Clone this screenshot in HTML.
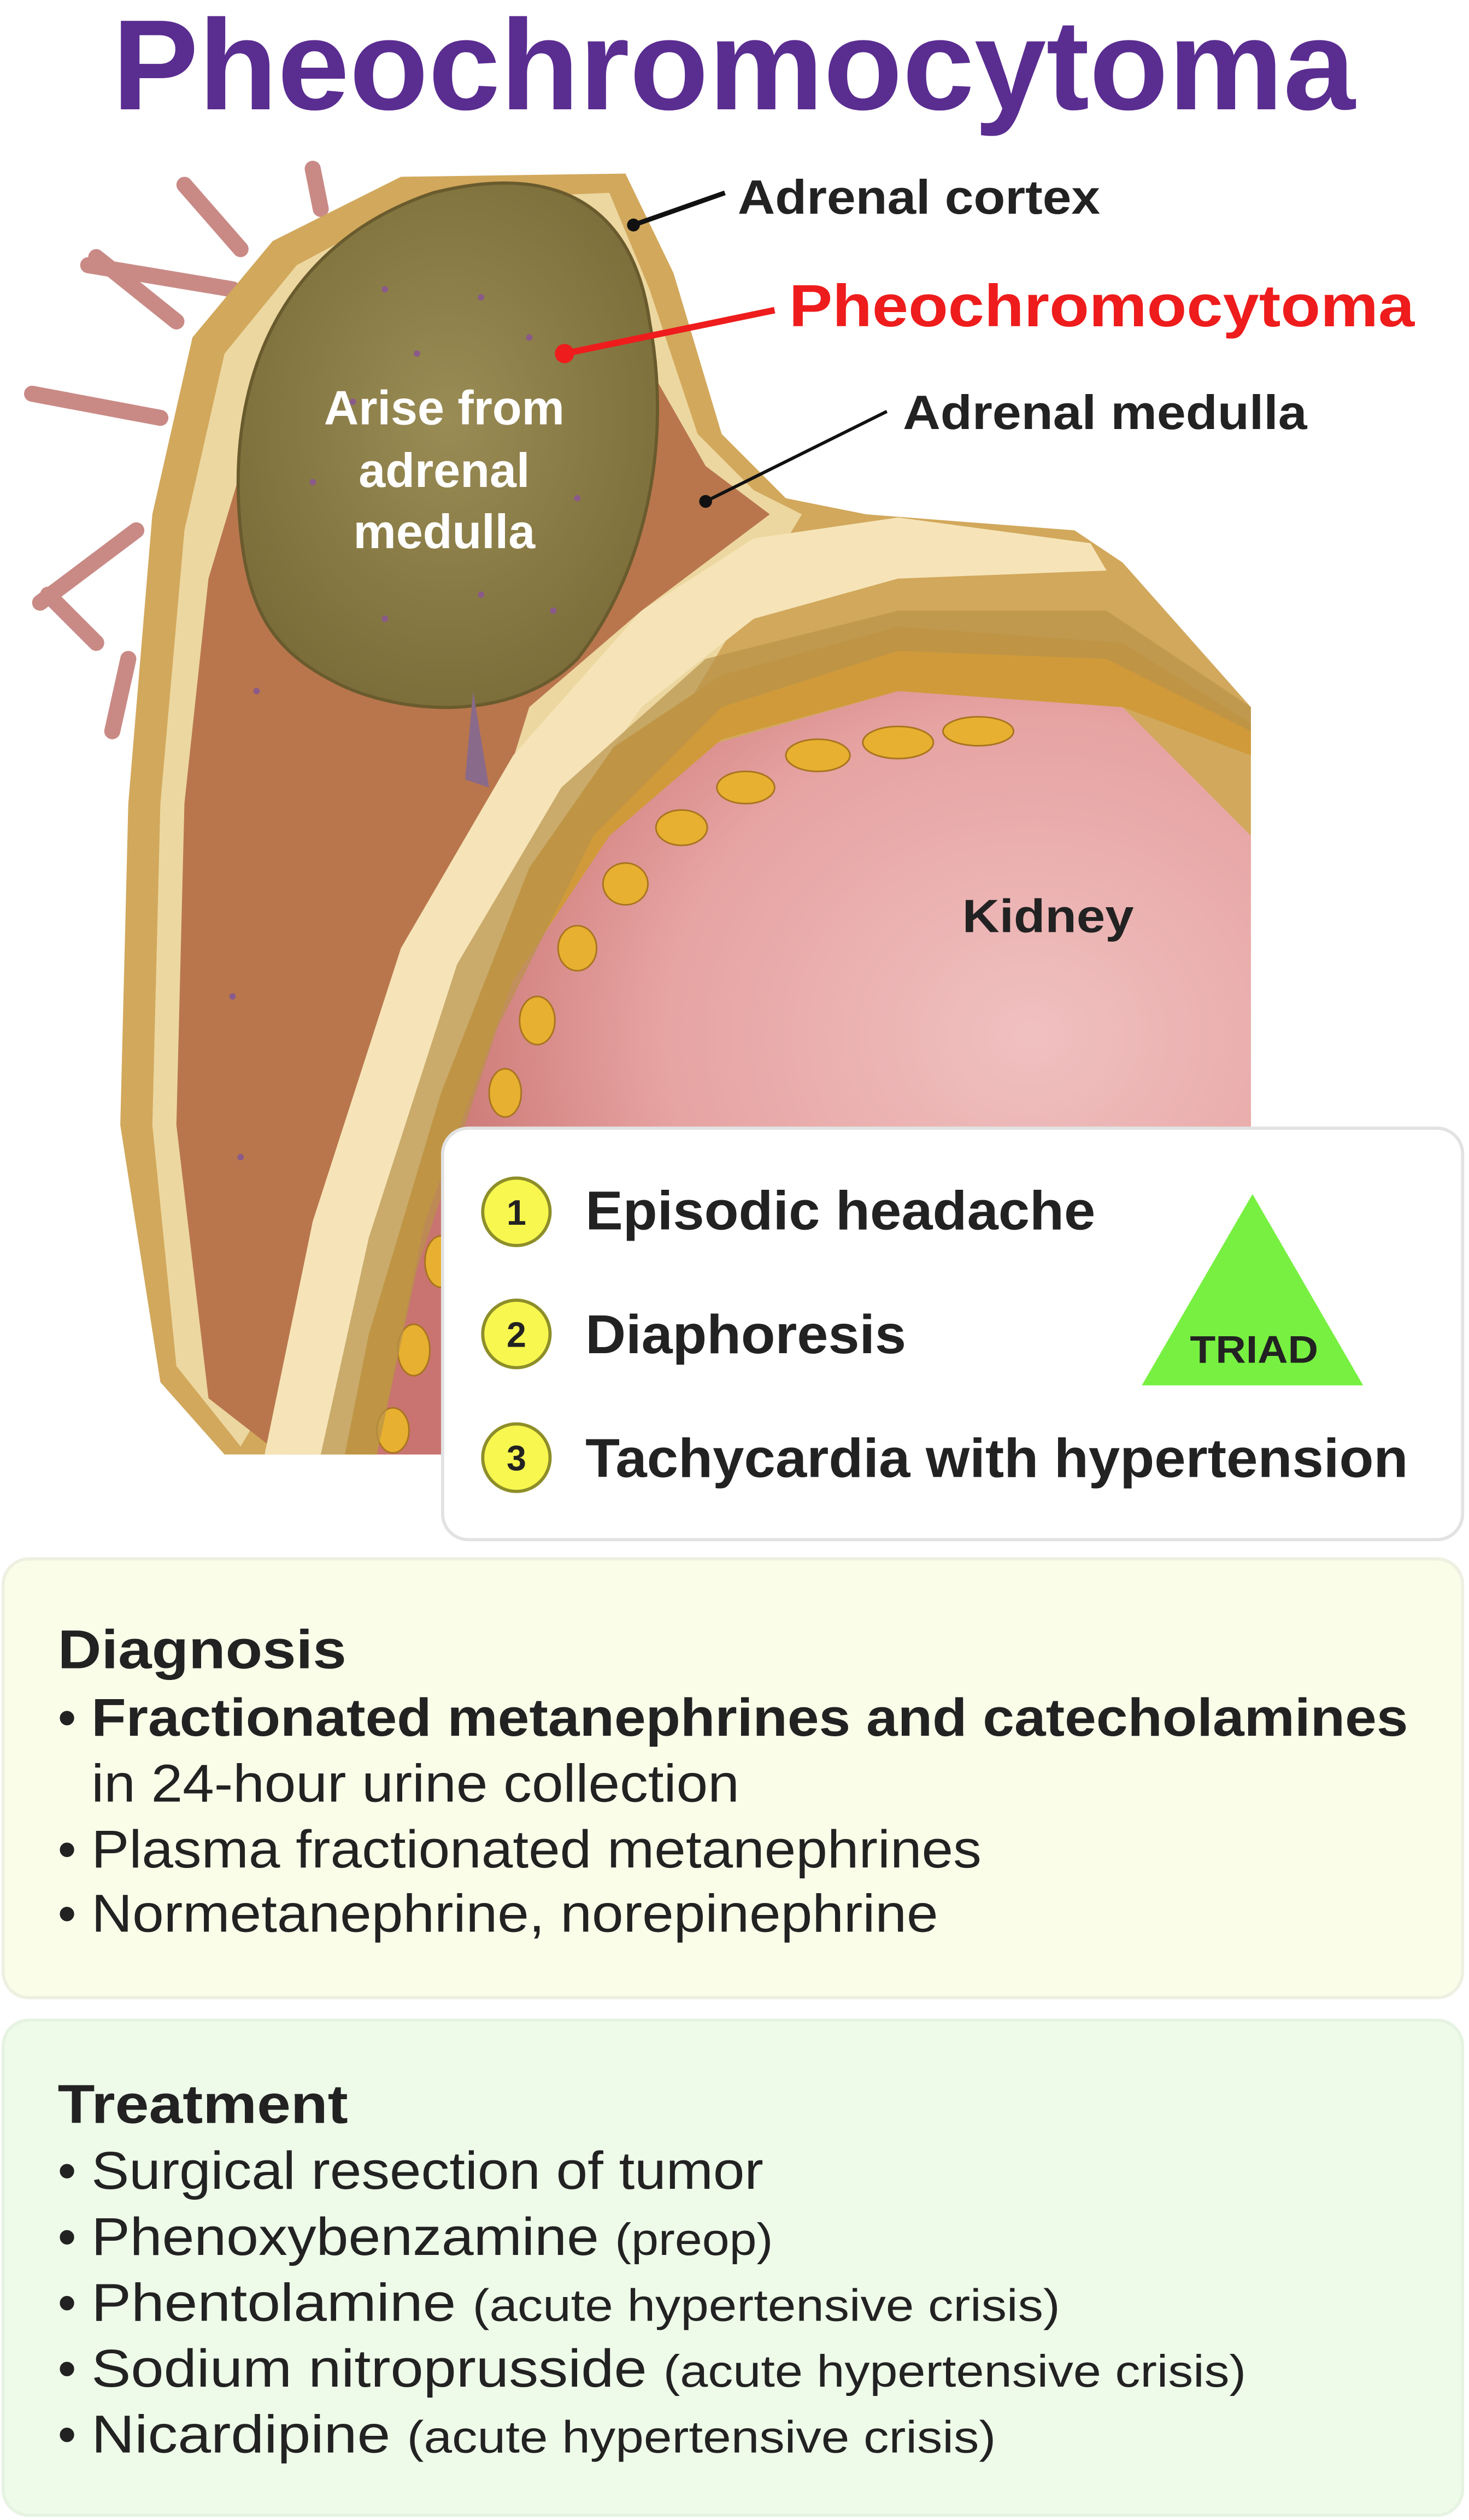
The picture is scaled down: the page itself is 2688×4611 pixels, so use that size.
<!DOCTYPE html>
<html><head><meta charset="utf-8"><style>html,body{margin:0;padding:0;background:#fff}svg{display:block}</style></head>
<body>
<svg width="2688" height="4611" viewBox="0 0 916 1568" preserveAspectRatio="none" xmlns="http://www.w3.org/2000/svg" font-family="Liberation Sans, Arial, sans-serif">
<defs>
<radialGradient id="kid" cx="0.75" cy="0.45" r="0.7"><stop offset="0" stop-color="#f0c0c0"/><stop offset="0.6" stop-color="#e6a3a2"/><stop offset="1" stop-color="#c97470"/></radialGradient>
<radialGradient id="tum" cx="0.5" cy="0.45" r="0.6"><stop offset="0" stop-color="#9a8c55"/><stop offset="1" stop-color="#7a6c38"/></radialGradient>
</defs>
<rect width="916" height="1568" fill="#fff"/>
<text x="70" y="68" font-size="80" font-weight="bold" fill="#5a2d91" textLength="775" lengthAdjust="spacingAndGlyphs">Pheochromocytoma</text>

<!-- vessels -->
<g stroke="#c98a86" stroke-width="10" stroke-linecap="round" fill="none">
<path d="M110 200 L60 160"/><path d="M100 260 L20 245"/><path d="M85 330 L25 375"/><path d="M80 410 L70 455"/><path d="M60 400 L30 370"/>
<path d="M150 155 L115 115"/><path d="M200 130 L195 105"/><path d="M145 180 L55 165"/>
</g>
<!-- outer adrenal -->
<path d="M140 905 L100 860 L75 700 L80 500 L95 320 L120 210 L170 150 L250 110 L390 108 L420 170 L450 270 L490 310 L540 320 L670 330 L700 350 L780 440 L780 905 Z" fill="#d2a85c"/>
<path d="M150 900 L110 850 L95 700 L100 500 L115 330 L140 220 L185 165 L260 125 L380 120 L405 180 L435 270 L470 305 L500 320 Z" fill="#ecd7a0"/>
<!-- medulla -->
<path d="M175 905 L130 870 L110 700 L115 500 L130 360 L160 260 L220 200 L330 190 L400 220 L440 290 L480 320 L400 380 L330 440 L280 600 L230 800 L210 905 Z" fill="#b9764c"/>
<!-- kidney -->
<path d="M230 905 L260 750 L330 560 L420 470 L560 430 L700 440 L780 520 L780 905 Z" fill="url(#kid)"/>
<!-- fat band -->
<path d="M195 905 L225 760 L290 580 L360 480 L450 420 L560 390 L700 400 L780 450 L780 470 L700 440 L560 430 L450 460 L380 520 L320 610 L265 760 L235 905 Z" fill="#d09a3a"/>
<g fill="#e8b030" stroke="#a87520" stroke-width="1">
<ellipse cx="560" cy="462" rx="22" ry="10"/><ellipse cx="510" cy="470" rx="20" ry="10"/><ellipse cx="465" cy="490" rx="18" ry="10"/><ellipse cx="425" cy="515" rx="16" ry="11"/><ellipse cx="390" cy="550" rx="14" ry="13"/><ellipse cx="360" cy="590" rx="12" ry="14"/><ellipse cx="335" cy="635" rx="11" ry="15"/><ellipse cx="315" cy="680" rx="10" ry="15"/><ellipse cx="295" cy="730" rx="10" ry="16"/><ellipse cx="275" cy="785" rx="10" ry="16"/><ellipse cx="258" cy="840" rx="10" ry="16"/><ellipse cx="245" cy="890" rx="10" ry="14"/><ellipse cx="610" cy="455" rx="22" ry="9"/>
</g>
<!-- cream band -->
<path d="M165 905 L195 760 L250 590 L320 470 L400 380 L470 335 L560 322 L680 338 L690 355 L560 360 L470 385 L400 440 L330 540 L275 680 L230 830 L215 905 Z" fill="#f6e4b8"/>
<path d="M200 905 L230 770 L285 600 L350 490 L440 410 L560 380 L690 380 L780 440 L780 455 L690 410 L560 405 L450 440 L370 520 L310 640 L260 790 L235 905 Z" fill="#b8934a" opacity="0.7"/>
<!-- tumor -->
<path d="M150 330 C140 230 180 150 270 120 C350 100 395 130 405 200 C420 280 400 360 360 410 C320 450 250 445 210 425 C170 405 155 380 150 330 Z" fill="url(#tum)" stroke="#6a5b2e" stroke-width="2"/>
<path d="M295 430 L305 490 L290 485 Z" fill="#8a6a8a"/>
<g fill="#8a5a8a"><circle cx="240" cy="180" r="2"/><circle cx="300" cy="185" r="2"/><circle cx="330" cy="210" r="2"/><circle cx="260" cy="220" r="2"/><circle cx="220" cy="250" r="2"/><circle cx="195" cy="300" r="2"/><circle cx="360" cy="310" r="2"/><circle cx="240" cy="385" r="2"/><circle cx="300" cy="370" r="2"/><circle cx="345" cy="380" r="2"/><circle cx="160" cy="430" r="2"/><circle cx="145" cy="620" r="2"/><circle cx="150" cy="720" r="2"/></g>

<!-- labels -->
<g font-weight="bold">
<text x="277" y="264" font-size="30" fill="#fff" text-anchor="middle">Arise from</text>
<text x="277" y="303" font-size="30" fill="#fff" text-anchor="middle">adrenal</text>
<text x="277" y="341" font-size="30" fill="#fff" text-anchor="middle">medulla</text>
<text x="460" y="133" font-size="30" fill="#222" textLength="226" lengthAdjust="spacingAndGlyphs">Adrenal cortex</text>
<text x="492" y="203" font-size="37" fill="#ee1c1c" textLength="390" lengthAdjust="spacingAndGlyphs">Pheochromocytoma</text>
<text x="563" y="267" font-size="30" fill="#222" textLength="252" lengthAdjust="spacingAndGlyphs">Adrenal medulla</text>
<text x="600" y="580" font-size="29" fill="#222" textLength="107" lengthAdjust="spacingAndGlyphs">Kidney</text>
</g>
<line x1="395" y1="140" x2="452" y2="120" stroke="#111" stroke-width="3"/><circle cx="395" cy="140" r="4" fill="#111"/>
<line x1="352" y1="220" x2="483" y2="193" stroke="#ee1c1c" stroke-width="4"/><circle cx="352" cy="220" r="6" fill="#ee1c1c"/>
<line x1="440" y1="312" x2="553" y2="256" stroke="#111" stroke-width="2"/><circle cx="440" cy="312" r="4" fill="#111"/>

<!-- triad box -->
<rect x="276" y="702" width="636" height="256" rx="16" fill="#fff" stroke="#e2e2e2" stroke-width="2"/>
<g fill="#f7f74f" stroke="#8e8e2a" stroke-width="2"><circle cx="322" cy="754" r="21"/><circle cx="322" cy="830" r="21"/><circle cx="322" cy="907" r="21"/></g>
<g font-weight="bold" fill="#222">
<text x="322" y="762" font-size="22" text-anchor="middle">1</text>
<text x="322" y="838" font-size="22" text-anchor="middle">2</text>
<text x="322" y="915" font-size="22" text-anchor="middle">3</text>
<text x="365" y="765" font-size="34" textLength="318" lengthAdjust="spacingAndGlyphs">Episodic headache</text>
<text x="365" y="842" font-size="34" textLength="200" lengthAdjust="spacingAndGlyphs">Diaphoresis</text>
<text x="365" y="919" font-size="34" textLength="513" lengthAdjust="spacingAndGlyphs">Tachycardia with hypertension</text>
</g>
<polygon points="781,743 712,862 850,862" fill="#77f041"/>
<text x="782" y="848" font-size="24" font-weight="bold" fill="#222" text-anchor="middle" textLength="80" lengthAdjust="spacingAndGlyphs">TRIAD</text>

<!-- diagnosis -->
<rect x="2" y="970" width="910" height="273" rx="16" fill="#fafee9" stroke="#efefe2" stroke-width="2"/>
<g fill="#222" font-size="33">
<text x="36" y="1038" font-size="34" font-weight="bold" textLength="180" lengthAdjust="spacingAndGlyphs">Diagnosis</text>
<text x="36" y="1080">•</text><text x="57" y="1080" font-weight="bold" textLength="821" lengthAdjust="spacingAndGlyphs">Fractionated metanephrines and catecholamines</text>
<text x="57" y="1121" textLength="404" lengthAdjust="spacingAndGlyphs">in 24-hour urine collection</text>
<text x="36" y="1162">•</text><text x="57" y="1162" textLength="555" lengthAdjust="spacingAndGlyphs">Plasma fractionated metanephrines</text>
<text x="36" y="1202">•</text><text x="57" y="1202" textLength="528" lengthAdjust="spacingAndGlyphs">Normetanephrine, norepinephrine</text>
</g>

<!-- treatment -->
<rect x="2" y="1257" width="910" height="308" rx="16" fill="#eefbe9" stroke="#e6f3e2" stroke-width="2"/>
<g fill="#222" font-size="33">
<text x="36" y="1321" font-size="34" font-weight="bold" textLength="181" lengthAdjust="spacingAndGlyphs">Treatment</text>
<text x="36" y="1362">•</text><text x="57" y="1362" textLength="419" lengthAdjust="spacingAndGlyphs">Surgical resection of tumor</text>
<text x="36" y="1403">•</text><text x="57" y="1403" textLength="425" lengthAdjust="spacingAndGlyphs">Phenoxybenzamine <tspan font-size="28">(preop)</tspan></text>
<text x="36" y="1444">•</text><text x="57" y="1444" textLength="604" lengthAdjust="spacingAndGlyphs">Phentolamine <tspan font-size="28">(acute hypertensive crisis)</tspan></text>
<text x="36" y="1485">•</text><text x="57" y="1485" textLength="720" lengthAdjust="spacingAndGlyphs">Sodium nitroprusside <tspan font-size="28">(acute hypertensive crisis)</tspan></text>
<text x="36" y="1526">•</text><text x="57" y="1526" textLength="564" lengthAdjust="spacingAndGlyphs">Nicardipine <tspan font-size="28">(acute hypertensive crisis)</tspan></text>
</g>
</svg>
</body></html>
